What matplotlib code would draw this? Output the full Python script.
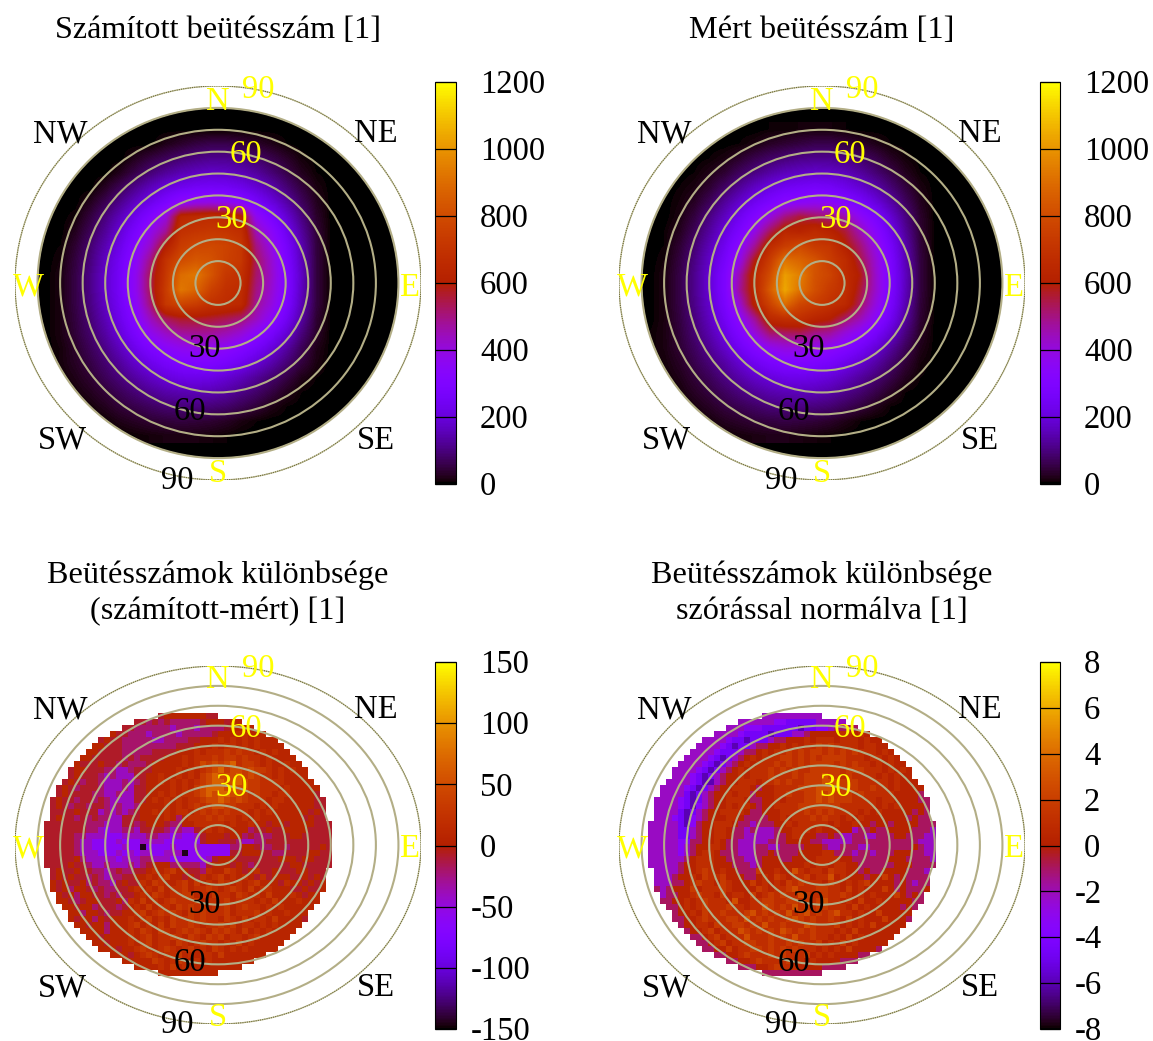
import numpy as np
import matplotlib
matplotlib.use("Agg")
import matplotlib.pyplot as plt
from matplotlib.patches import Circle

plt.rcParams["font.family"] = ["Liberation Serif", "DejaVu Serif"]

WIDTH = 1153
HEIGHT = 1041

TITLES = [
    "Számított beütésszám [1]",
    "Mért beütésszám [1]",
    "Beütésszámok különbsége\n(számított-mért) [1]",
    "Beütésszámok különbsége\nszórással normálva [1]",
]

COUNT_TICKS = [0, 200, 400, 600, 800, 1000, 1200]
DIFF_TICKS = [-150, -100, -50, 0, 50, 100, 150]
NORM_TICKS = [-8, -6, -4, -2, 0, 2, 4, 6, 8]

RINGS = [10, 20, 30, 40, 50, 60, 70, 80, 90]

# counts, rows from north to south, columns from west to east
CALC_COUNTS = [
    [0, 0, 0, 0, 0, 0, 0, 0, 0, 0, 0, 0, 0, 0, 0, 0, 0, 0, 0, 0],
    [0, 0, 0, 0, 0, 0, 0, 0, 20, 35, 50, 60, 60, 50, 35, 20, 5, 0, 0, 0],
    [0, 0, 0, 0, 0, 0, 25, 50, 70, 90, 105, 115, 115, 105, 85, 60, 35, 10, 0, 0],
    [0, 0, 0, 0, 0, 25, 60, 95, 125, 150, 165, 175, 170, 155, 130, 95, 60, 25, 5, 0],
    [0, 0, 0, 0, 30, 70, 115, 160, 200, 230, 250, 255, 250, 225, 190, 145, 95, 50, 15, 0],
    [0, 0, 0, 25, 65, 115, 170, 225, 285, 350, 380, 390, 375, 330, 265, 205, 140, 75, 25, 0],
    [0, 0, 10, 50, 100, 160, 230, 310, 400, 640, 660, 670, 660, 620, 370, 280, 190, 105, 35, 0],
    [0, 0, 25, 70, 125, 195, 280, 380, 480, 690, 710, 720, 710, 680, 450, 350, 235, 130, 45, 0],
    [0, 5, 40, 90, 150, 225, 320, 430, 600, 740, 780, 790, 770, 720, 500, 390, 270, 150, 50, 0],
    [0, 10, 50, 100, 170, 250, 350, 500, 700, 800, 840, 820, 760, 720, 530, 420, 290, 160, 50, 0],
    [0, 15, 55, 110, 180, 260, 370, 540, 720, 900, 930, 830, 720, 690, 520, 430, 300, 170, 50, 0],
    [0, 15, 55, 110, 180, 260, 370, 540, 740, 930, 880, 760, 690, 670, 500, 420, 300, 165, 50, 0],
    [0, 15, 55, 105, 170, 250, 350, 510, 720, 770, 740, 690, 670, 650, 480, 400, 285, 155, 50, 0],
    [0, 15, 50, 95, 155, 230, 320, 440, 530, 570, 570, 560, 540, 510, 440, 350, 245, 135, 40, 0],
    [0, 15, 45, 85, 135, 200, 280, 370, 430, 470, 480, 475, 450, 410, 340, 270, 190, 100, 35, 0],
    [0, 10, 35, 70, 110, 165, 230, 290, 340, 370, 380, 375, 350, 310, 260, 200, 135, 70, 20, 0],
    [5, 10, 30, 55, 90, 130, 180, 225, 265, 290, 300, 295, 270, 235, 190, 145, 95, 50, 15, 0],
    [0, 5, 20, 40, 70, 100, 135, 170, 200, 220, 225, 215, 190, 160, 125, 90, 55, 20, 5, 0],
    [0, 0, 10, 25, 45, 70, 95, 120, 140, 150, 155, 150, 135, 110, 85, 55, 25, 5, 0, 0],
    [0, 0, 0, 10, 25, 45, 60, 75, 90, 95, 100, 95, 85, 65, 45, 20, 5, 0, 0, 0],
    [0, 0, 0, 0, 5, 20, 30, 40, 45, 50, 45, 40, 30, 15, 5, 0, 0, 0, 0, 0],
    [0, 0, 0, 0, 0, 0, 5, 10, 15, 15, 15, 10, 5, 0, 0, 0, 0, 0, 0, 0],
]

MEAS_COUNTS = [
    [0, 0, 0, 0, 0, 0, 0, 0, 5, 5, 10, 10, 10, 5, 0, 0, 0, 0, 0, 0],
    [0, 0, 0, 0, 0, 0, 5, 15, 30, 40, 50, 60, 60, 50, 35, 20, 5, 0, 0, 0],
    [0, 0, 0, 0, 5, 15, 35, 60, 80, 95, 110, 115, 115, 105, 85, 60, 30, 10, 0, 0],
    [0, 0, 0, 5, 20, 40, 75, 105, 135, 160, 170, 180, 175, 160, 130, 95, 60, 25, 5, 0],
    [0, 0, 5, 15, 40, 80, 125, 170, 210, 240, 255, 265, 255, 225, 190, 145, 95, 50, 15, 0],
    [0, 0, 10, 30, 70, 125, 180, 235, 285, 330, 345, 365, 350, 315, 265, 205, 140, 75, 25, 0],
    [0, 0, 15, 50, 105, 165, 235, 310, 400, 500, 560, 530, 510, 460, 360, 280, 190, 105, 35, 0],
    [0, 5, 25, 70, 130, 200, 285, 390, 530, 640, 620, 660, 620, 560, 450, 340, 230, 125, 40, 0],
    [0, 5, 40, 90, 155, 235, 340, 480, 660, 740, 790, 730, 710, 610, 510, 390, 265, 145, 45, 0],
    [0, 10, 50, 105, 175, 265, 390, 590, 740, 920, 880, 830, 740, 670, 550, 420, 285, 155, 50, 0],
    [0, 15, 55, 115, 190, 290, 460, 650, 800, 1020, 950, 820, 770, 670, 590, 430, 290, 165, 50, 0],
    [0, 15, 55, 115, 190, 290, 480, 640, 850, 1040, 920, 810, 730, 680, 560, 430, 290, 160, 50, 0],
    [0, 15, 55, 110, 180, 275, 420, 620, 760, 900, 780, 740, 690, 650, 530, 400, 275, 150, 45, 0],
    [0, 15, 50, 100, 165, 245, 350, 480, 650, 680, 680, 630, 600, 520, 450, 350, 240, 130, 40, 0],
    [5, 15, 45, 90, 145, 210, 295, 400, 510, 520, 530, 490, 470, 400, 340, 265, 185, 100, 30, 0],
    [5, 15, 40, 75, 120, 175, 240, 310, 370, 400, 400, 380, 350, 310, 255, 195, 130, 70, 20, 0],
    [0, 10, 30, 60, 95, 135, 185, 235, 275, 300, 300, 285, 265, 225, 185, 140, 90, 45, 10, 0],
    [0, 5, 20, 45, 70, 105, 140, 175, 200, 220, 225, 215, 195, 165, 130, 95, 60, 25, 5, 0],
    [0, 0, 10, 30, 50, 75, 100, 125, 145, 155, 160, 155, 140, 115, 90, 60, 30, 5, 0, 0],
    [0, 0, 0, 15, 30, 50, 65, 80, 95, 100, 105, 100, 90, 70, 50, 25, 5, 0, 0, 0],
    [0, 0, 0, 0, 10, 25, 35, 45, 50, 55, 50, 45, 35, 20, 5, 0, 0, 0, 0, 0],
    [0, 0, 0, 0, 0, 5, 10, 15, 20, 20, 15, 10, 5, 0, 0, 0, 0, 0, 0, 0],
]

# one character per cell, read as an index into the level lists, . is no data
DIFF_LEVELS = [-90, -60, -40, -20, -8, 8, 20, 32, 48, 68, -145]
NORM_LEVELS = [-6, -4.6, -3.4, -2.2, -1, 0.3, 1, 1.8, 2.8, 4, -7.8]

DIFF_ROWS = [
    "...................4555555544",
    "...............443434333334555455",
    ".............4433333323332333345555",
    "...........54433323333233333455566555",
    ".........454433333223333445556565656555",
    "........55444333333333444555656656565555",
    ".......5544443333344445556566676766565655",
    "......554444434344445556566676776766565555",
    ".....54445443433345555565687878967765655655",
    "....4554443322344455556565678978878776565655",
    "....4544432322244556556565789888978766565555",
    "...454344322232345565656567899889877666655555",
    "..45434443222324455556565789998988776665655555",
    "..45444433223224455656566789899887676656655554",
    ".4544344343222244565656566788987876665665555544",
    ".4543443443232235555656567678877666565655555544",
    ".4444544423232345565656656767676665656555555454",
    ".4544343433224445555653566676766565655555554544",
    "444444433322244345554335566666565565545545555444",
    "444444433212233244443232245656555534454455554444",
    "444443322211122223322121124555455343334445544444",
    "444443221111211122221111114554443223344444444444",
    "4444432211111211a1111211121111133554334434444454",
    "44444322211121212211222a111111144555443344445544",
    "444445322222122233222111111245554444444555455444",
    "444454432232223234555333332455545434444445544444",
    ".4544544332343344565675544365576545644544455444",
    ".4545443432334455656755454656756565464555445454",
    ".5454453433245446576556757565765656755546554545",
    ".5453554343344565657566756676567657566555445445",
    "..54535544343445657656677565766576565755565455",
    "..55434554445365756567666756667566656575556555",
    "...554553444345657566576767566756766565655555",
    "....5535543445567567676576766675666756556555",
    "....5455354555656756576676766576575665755554",
    ".....55455355567565757667656676756656565555",
    "......555535556576576567676576765756565555",
    ".......5545555656756676576576756656755555",
    "........55455565675665765676656575655555",
    ".........555455676567656756576565655555",
    "...........55545676566756566575555555",
    ".............5555576567656565555555",
    "...............555565756555555555",
    "...................5555555555",
]

NORM_ROWS = [
    "...................3333333333",
    "...............333333221111133333",
    ".............3332221111110112234444",
    "...........33332111101113345555566565",
    ".........333321101113445556566656665655",
    "........33332101134455656566767666656655",
    ".......3333211134456566767677676767666565",
    "......333321013456566677676767777666566565",
    ".....33332101345656667676767777676766565655",
    "....3333210134565666767676677777677766656565",
    "....3332101345565666766676777877676666565655",
    "...333321003455666566767667778887776666656555",
    "..33332101345566654556666777888877766766565555",
    "..33331013455656645556676677878777676666655554",
    ".3333210134556665445565666778787776666566555544",
    ".3333210234556566545566667777777666666565655554",
    ".3333101345566665445556666767676666565655555454",
    ".3332102345556654444556566676766565655555554544",
    "333331024556665443444556566666565565545545555444",
    "333331134556654434333455666565555534454455554443",
    "333331134556654433333445665544543344334445544433",
    "333332244556544333334445555443333344444444444333",
    "333332345566544333443344445554334443344444445433",
    "333332345665444333445444455556644434434445554433",
    "333333456665544433455544555566665544444455544443",
    "333334556665554443455555556566566554444445554444",
    ".3333455676565544475565586566576655454455554443",
    ".3334556576675554456576566756685655545575454444",
    ".3334456766576555756565767666576565675555454344",
    ".4345557566676555576566786667766575655575454445",
    "..34455676657566575676766876676676565655575454",
    "..44556567666585566776677676786656575565555544",
    "...445656766676656687676867677666575655555454",
    "....4556576676667867676867867678665655755555",
    "....4455676667768676766787676676575655575554",
    ".....45566576677676866766687666756565755555",
    "......455675666876767687676766656575555555",
    ".......4456756668666767686676656575655555",
    "........44567566776676676766756575655555",
    ".........445575667767676766656565755554",
    "...........44556766676766675656555544",
    ".............4455676666766565555444",
    "...............444556766655554444",
    "...................4444444444",
]

LABEL_TEXT = ["N", "E", "S", "W", "90", "60", "30", "NW", "NE", "SW", "SE", "90", "60", "30"]
LABEL_X = [0, 85, 0, -84, 18, 12.4, 6, -70, 70, -69, 70, -18, -12.4, -6]
LABEL_Y = [83, -2, -87, -2, 88.5, 58.5, 28.7, 68, 68, -72, -72, -90.5, -59, -30]
LABEL_COLOR = ["yellow"] * 7 + ["black"] * 7


def decode(rows, levels):
    grid = np.full((len(rows), 48), np.nan)
    for j, row in enumerate(rows):
        for i, ch in enumerate(row[:48]):
            if ch == "a":
                grid[j, i] = levels[10]
            elif ch != ".":
                grid[j, i] = levels[int(ch)]
    return grid


def pixel_rect(left, top, w, h):
    return [left / WIDTH, 1 - (top + h) / HEIGHT, w / WIDTH, h / HEIGHT]


def draw_panel(fig, cx, cy, ry, bar_left, bar_width, bar_top, bar_bottom, grid, ticks, title, title_y, smooth):
    ax = fig.add_axes(pixel_rect(cx - 203, cy - ry, 406, 2 * ry))
    ax.axis("off")

    vmin = ticks[0]
    vmax = ticks[-1]

    if smooth:
        ax.add_patch(Circle((0, 0), 79.5, color="black", zorder=1))
        im = ax.imshow(grid, extent=(-80, 53.3, -73.3, 73.3), cmap="gnuplot", vmin=vmin, vmax=vmax,
                       interpolation="bilinear", aspect="auto", zorder=2)
        im.set_clip_path(Circle((0, 0), 79.5, transform=ax.transData))
    else:
        im = ax.imshow(grid, extent=(-77, 50.5, -66, 66), cmap="gnuplot", vmin=vmin, vmax=vmax,
                       interpolation="nearest", aspect="auto", zorder=2)
    ax.set_xlim(-90, 90)
    ax.set_ylim(-90, 90)

    for r in RINGS:
        if r == 90:
            ax.add_patch(Circle((0, 0), r, fill=False, zorder=3, edgecolor="#c8c6a0", linewidth=1.0))
            ax.add_patch(Circle((0, 0), r, fill=False, zorder=3, edgecolor="#6e6c3c", linewidth=0.8,
                                linestyle=(0, (1, 1))))
        else:
            ax.add_patch(Circle((0, 0), r, fill=False, zorder=3, edgecolor="#b3ae86", linewidth=1.5))

    for text, x, y, color in zip(LABEL_TEXT, LABEL_X, LABEL_Y, LABEL_COLOR):
        ax.text(x, y, text, color=color, fontsize=23.5, ha="center", va="center", zorder=4)

    cax = fig.add_axes(pixel_rect(bar_left, bar_top, bar_width, bar_bottom - bar_top))
    cb = fig.colorbar(im, cax=cax)
    cb.set_ticks(ticks)
    cb.outline.set_linewidth(0.8)
    cax.set_yticklabels([])
    cax.tick_params(length=bar_width * 0.72, width=0.9, direction="in", color="black")

    # gnuplot leaves the minus sign hanging left of the digits
    for v in ticks:
        hang = 9 if v < 0 else 0
        x = 1 + (24 - hang) / bar_width
        y_px = bar_bottom - (v - vmin) / (vmax - vmin) * (bar_bottom - bar_top) + 3
        fig.text((bar_left + bar_width * x) / WIDTH, 1 - y_px / HEIGHT, str(v), fontsize=23.5,
                 ha="left", va="center")

    fig.text(cx / WIDTH, 1 - title_y / HEIGHT, title, fontsize=23.2, ha="center", va="center",
             linespacing=1.3)


def main():
    fig = plt.figure(figsize=(WIDTH / 100, HEIGHT / 100), dpi=100)

    calc = np.array(CALC_COUNTS, dtype=float)
    meas = np.array(MEAS_COUNTS, dtype=float)
    diff = decode(DIFF_ROWS, DIFF_LEVELS)
    norm = decode(NORM_ROWS, NORM_LEVELS)

    draw_panel(fig, 218, 283, 197, 435, 21, 82, 484, calc, COUNT_TICKS, TITLES[0], 31, True)
    draw_panel(fig, 822, 283, 197, 1040, 20, 82, 484, meas, COUNT_TICKS, TITLES[1], 31, True)
    draw_panel(fig, 218, 845, 179, 435, 21, 662, 1029, diff, DIFF_TICKS, TITLES[2], 593, False)
    draw_panel(fig, 822, 845, 179, 1040, 20, 662, 1029, norm, NORM_TICKS, TITLES[3], 593, False)

    fig.savefig("out.png", dpi=100)


if __name__ == "__main__":
    main()
